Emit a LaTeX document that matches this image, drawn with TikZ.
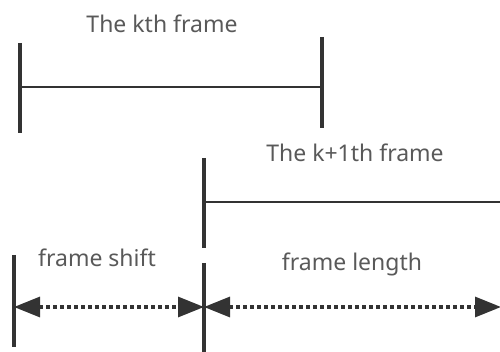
\documentclass[tikz,border=0pt]{standalone}
\usepackage{fontspec}
\setmainfont{Noto Sans}
\usetikzlibrary{arrows.meta}
\definecolor{linegray}{HTML}{333333}
\definecolor{textgray}{HTML}{595959}
\begin{document}
\begin{tikzpicture}[x=1pt, y=-1pt,
  tick/.style={draw=linegray, line width=3.2pt},
  span/.style={draw=linegray, line width=2.8pt},
  measure/.style={draw=linegray, line width=3.2pt, dash pattern=on 4pt off 3pt,
    {Triangle[length=26pt,width=20pt]}-{Triangle[length=26pt,width=20pt]}},
  caption/.style={text=textgray, font=\fontsize{23}{27}\selectfont, inner sep=0pt}
]
\useasboundingbox (0,0) rectangle (500,352);
% the kth frame
\coordinate (kTopL) at (20,43);
\coordinate (kBotL) at (20,133);
\coordinate (kTopR) at (322,37);
\coordinate (kBotR) at (322,128);
\coordinate (kL) at (20,87);
\coordinate (kR) at (322,87);
\node[caption] (kLabel) at (162,24) {The kth frame};
\draw[tick] (kTopL) -- (kBotL);
\draw[tick] (kTopR) -- (kBotR);
\draw[span] (kL) -- (kR);
% the k+1th frame
\coordinate (nTop) at (204,158);
\coordinate (nBot) at (204,248);
\coordinate (nL) at (204,202);
\coordinate (nR) at (500,202);
\node[caption] (nLabel) at (355,153) {The k+1th frame};
\draw[tick] (nTop) -- (nBot);
\draw[span] (nL) -- (nR);
% shift and length
\coordinate (sTop) at (14,255);
\coordinate (sBot) at (14,347);
\coordinate (mTop) at (204,263);
\coordinate (mBot) at (204,352);
\coordinate (sA) at (14,307);
\coordinate (sB) at (204,307);
\coordinate (lB) at (501,307);
\draw[tick] (sTop) -- (sBot);
\draw[tick] (mTop) -- (mBot);
\node[caption] (shift) at (97,258) {frame shift};
\node[caption] (length) at (352,264) {frame length};
\draw[measure] (sA) -- (sB);
\draw[measure] (sB) -- (lB);
\end{tikzpicture}
\end{document}
